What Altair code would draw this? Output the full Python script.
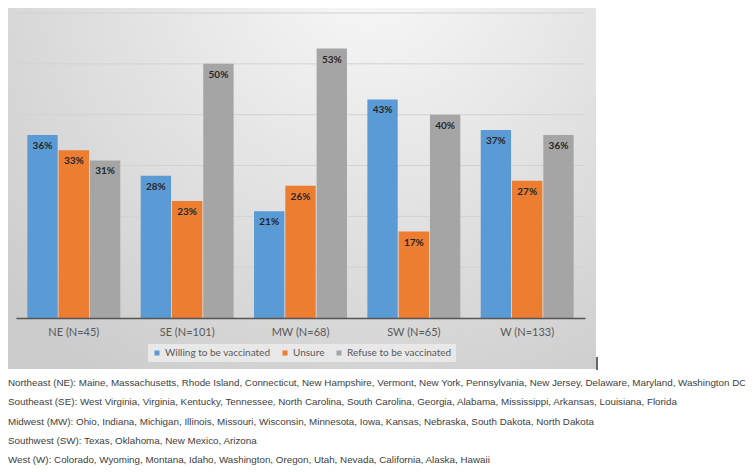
import altair as alt
import pandas as pd

regions = ["NE (N=45)", "SE (N=101)", "MW (N=68)", "SW (N=65)", "W (N=133)"]
series = ["Willing to be vaccinated", "Unsure", "Refuse to be vaccinated"]
willing = [36, 28, 21, 43, 37]
unsure = [33, 23, 26, 17, 27]
refuse = [31, 50, 53, 40, 36]
colors = ["#5B9BD5", "#ED7D31", "#A5A5A5"]
y_ticks = [10, 20, 30, 40, 50, 60]
footnotes = [
    "Northeast (NE): Maine, Massachusetts, Rhode Island, Connecticut, New Hampshire, Vermont, New York, Pennsylvania, New Jersey, Delaware, Maryland, Washington DC",
    "Southeast (SE): West Virginia, Virginia, Kentucky, Tennessee, North Carolina, South Carolina, Georgia, Alabama, Mississippi, Arkansas, Louisiana, Florida",
    "Midwest (MW): Ohio, Indiana, Michigan, Illinois, Missouri, Wisconsin, Minnesota, Iowa, Kansas, Nebraska, South Dakota, North Dakota",
    "Southwest (SW): Texas, Oklahoma, New Mexico, Arizona",
    "West (W): Colorado, Wyoming, Montana, Idaho, Washington, Oregon, Utah, Nevada, California, Alaska, Hawaii",
]

rows = []
for i, r in enumerate(regions):
    for s, vals in zip(series, [willing, unsure, refuse]):
        rows.append({"region": r, "series": s, "value": vals[i], "label": f"{vals[i]}%"})
df = pd.DataFrame(rows)

W, H = 569, 305

one = pd.DataFrame({"a": [0]})

bg = alt.Chart(one).mark_rect(
    fill=alt.Gradient(
        gradient="radial",
        stops=[alt.GradientStop(color="#f9f9f9", offset=0),
               alt.GradientStop(color="#cbcbcb", offset=1)],
        x1=0.62, y1=0.12, r1=0, x2=0.62, y2=0.12, r2=0.85,
    )
).encode(x=alt.value(-11), x2=alt.value(580), y=alt.value(-9), y2=alt.value(356))

edge = alt.Chart(one).mark_rule(color="#333333", strokeWidth=1.5).encode(
    x=alt.value(581), y=alt.value(344), y2=alt.value(357)
)

y_scale = alt.Scale(domain=[0, 60], nice=False)

grid = alt.Chart(pd.DataFrame({"g": y_ticks})).mark_rule(color="#d2d2d2", strokeWidth=1).encode(
    y=alt.Y("g:Q", scale=y_scale, axis=None),
    x=alt.value(0), x2=alt.value(W),
)

x_enc = alt.X(
    "region:N",
    sort=regions,
    title=None,
    scale=alt.Scale(paddingInner=0.18, paddingOuter=0.1),
    axis=alt.Axis(labelAngle=0, ticks=False, tickSize=0, labelPadding=8,
                  labelFont="Lato", labelFontSize=11, labelColor="#595959",
                  domainColor="#555555", domainWidth=1.5, zindex=1),
)
xo_enc = alt.XOffset("series:N", sort=series, scale=alt.Scale(domain=series, paddingInner=0.03))
y_enc = alt.Y("value:Q", title=None, scale=y_scale, axis=None)

bars = alt.Chart(df).mark_bar().encode(
    x=x_enc,
    xOffset=xo_enc,
    y=y_enc,
    color=alt.Color(
        "series:N",
        sort=series,
        scale=alt.Scale(domain=series, range=colors),
        legend=alt.Legend(orient="none", legendX=132, legendY=331, direction="horizontal",
                          title=None, fillColor="#e8e8e8", padding=4,
                          symbolType="square", symbolSize=25, symbolStrokeWidth=0,
                          labelFont="Lato", labelFontSize=10, labelColor="#595959",
                          columnPadding=9, labelOffset=3, zindex=1),
    ),
)

labels = alt.Chart(df).mark_text(
    baseline="top", dy=6, font="Lato", fontSize=10, fontWeight="bold", color="#262626"
).encode(
    x=alt.X("region:N", sort=regions),
    xOffset=alt.XOffset("series:N", sort=series),
    y="value:Q",
    text="label:N",
)

layers = [bg, edge, grid, bars, labels]
y0 = 370
for i, line in enumerate(footnotes):
    layers.append(
        alt.Chart(pd.DataFrame({"t": [line]})).mark_text(
            align="left", baseline="middle", font="Liberation Sans", fontSize=9.8, color="#404040"
        ).encode(text="t:N", x=alt.value(-8), y=alt.value(y0 + i * 19.3))
    )

chart = alt.layer(*layers).properties(
    width=W, height=H,
    autosize=alt.AutoSizeParams(type="none"),
    padding={"left": 8, "top": 5, "right": 160, "bottom": 147},
).configure_view(stroke=None)

chart.save("out.html", embed_options={"renderer": "svg", "actions": False})
